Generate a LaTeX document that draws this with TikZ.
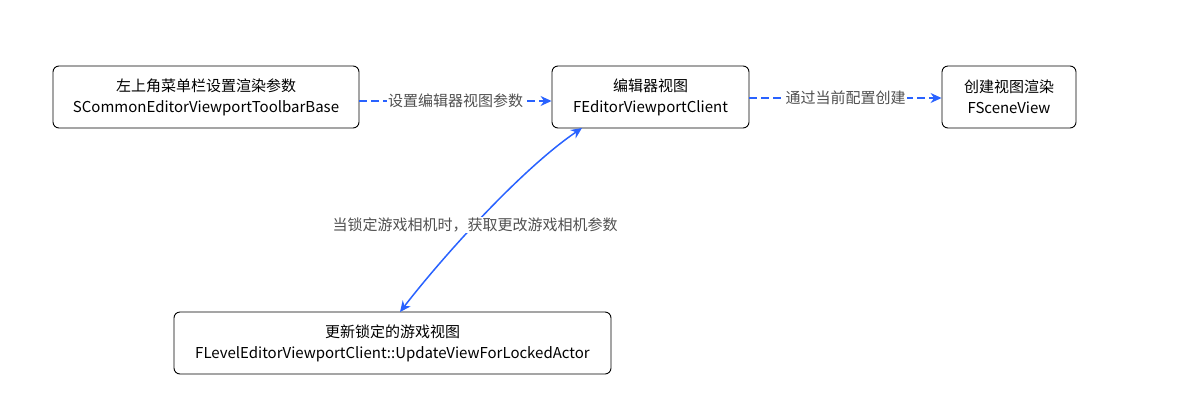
\documentclass[tikz,border=0pt]{standalone}
\usepackage{fontspec}
\setmainfont{Noto Sans CJK SC}
\usetikzlibrary{arrows.meta}
\definecolor{linkblue}{RGB}{41,98,255}
\definecolor{labelgray}{RGB}{80,80,80}
\tikzset{
	boxnode/.style={draw, rounded corners=6pt, line width=0.9pt, align=center, inner sep=0pt, minimum height=62pt, font=\fontsize{15}{21}\selectfont},
	linklabel/.style={fill=white, inner sep=1pt, text=labelgray, font=\fontsize{15}{17}\selectfont},
	linkarrow/.style={linkblue, line width=1.5pt, -{Stealth[length=11pt,width=10pt]}}
}
\begin{document}
\begin{tikzpicture}[x=1pt, y=-1pt]
			\useasboundingbox (0,0) rectangle (1191,416);
			%boxes
			\node[boxnode, minimum width=306pt] (toolbar) at (206, 97){左上角菜单栏设置渲染参数\\SCommonEditorViewportToolbarBase};
			\node[boxnode, minimum width=197pt] (client) at (650.5, 97){编辑器视图\\FEditorViewportClient};
			\node[boxnode, minimum width=134pt] (sceneview) at (1009, 97){创建视图渲染\\FSceneView};
			\node[boxnode, minimum width=437pt] (locked) at (392.5, 343){更新锁定的游戏视图\\FLevelEditorViewportClient::UpdateViewForLockedActor};
			
			%links
			\draw[linkarrow, dash pattern=on 8pt off 4pt] (toolbar.east |- 0,101) -- node[linklabel]{设置编辑器视图参数} (client.west |- 0,101);
			\draw[linkarrow, dash pattern=on 8pt off 4pt] (client.east |- 0,98) -- node[linklabel]{通过当前配置创建} (sceneview.west |- 0,98);
			\coordinate (lockedtop) at (400, 312);
			\coordinate (clientbottom) at (582, 128);
			\draw[linkarrow, {Stealth[length=11pt,width=10pt]}-{Stealth[length=11pt,width=10pt]}] (lockedtop) .. controls (440, 260) and (520, 170) .. (clientbottom);
			\node[linklabel] (locklabel) at (475, 225){当锁定游戏相机时，获取更改游戏相机参数};
		\end{tikzpicture}
\end{document}
